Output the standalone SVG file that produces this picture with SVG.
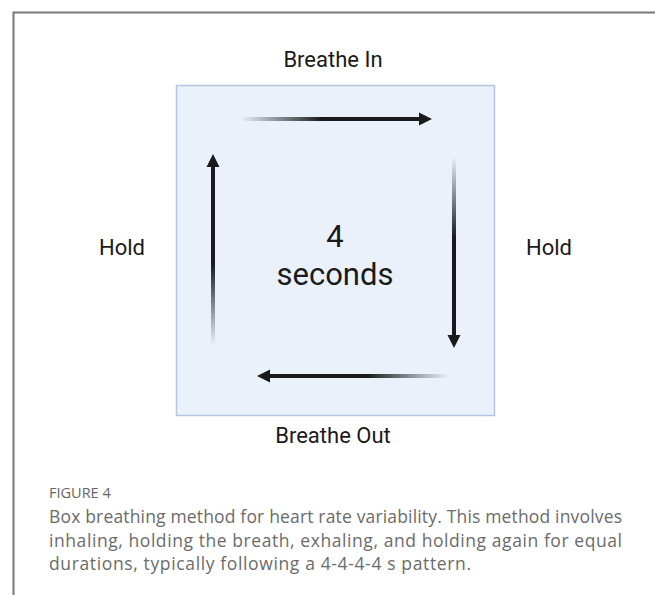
<svg xmlns="http://www.w3.org/2000/svg" width="655" height="595" viewBox="0 0 655 595">
<style>
.lbl{font-family:Roboto,"Liberation Sans",sans-serif;font-size:22px;fill:#1a1a1a;text-anchor:middle}
.big{font-family:Roboto,"Liberation Sans",sans-serif;font-size:31px;fill:#1a1a1a;text-anchor:middle}
.cap{font-family:"Open Sans","Liberation Sans",sans-serif;font-size:17.5px;fill:#6b6b6b}
.fig{font-family:"Open Sans","Liberation Sans",sans-serif;font-size:14.5px;fill:#666}
</style>
<defs>
<linearGradient id="fade" x1="0" y1="0" x2="1" y2="0">
<stop offset="0" stop-color="#1a1a1a" stop-opacity="0"/>
<stop offset="0.45" stop-color="#1a1a1a" stop-opacity="1"/>
<stop offset="1" stop-color="#1a1a1a" stop-opacity="1"/>
</linearGradient>
<g id="arrow">
<rect x="0" y="-2" width="180" height="4" fill="url(#fade)"/>
<polygon points="178,-6.5 191,0 178,6.5" fill="#1a1a1a"/>
</g>
</defs>
<rect width="655" height="595" fill="#fff"/>
<path d="M13.5 595 V12.5 H655" fill="none" stroke="#777" stroke-width="2"/>
<g id="box">
<rect x="176.5" y="85.5" width="318" height="330" fill="#eaf1fb" stroke="#b3c6e3" stroke-width="1.5"/>
</g>
<g id="connectors">
<use href="#arrow" transform="translate(241,119)"/>
<use href="#arrow" transform="translate(454,157) rotate(90)"/>
<use href="#arrow" transform="translate(448,376) rotate(180)"/>
<use href="#arrow" transform="translate(213,345) rotate(-90)"/>
</g>
<g id="breathe-in"><text class="lbl" x="333" y="67">Breathe In</text></g>
<g id="hold-right"><text class="lbl" x="549" y="255">Hold</text></g>
<g id="breathe-out"><text class="lbl" x="333" y="443">Breathe Out</text></g>
<g id="hold-left"><text class="lbl" x="122" y="255">Hold</text></g>
<g id="center"><text class="big" x="335" y="247">4</text><text class="big" x="335" y="285">seconds</text></g>
<g id="caption">
<text class="fig" x="49" y="498">FIGURE 4</text>
<text class="cap" x="49" y="523" textLength="573" lengthAdjust="spacing">Box breathing method for heart rate variability. This method involves</text>
<text class="cap" x="49" y="547" textLength="573" lengthAdjust="spacing">inhaling, holding the breath, exhaling, and holding again for equal</text>
<text class="cap" x="49" y="570" textLength="422" lengthAdjust="spacing">durations, typically following a 4-4-4-4 s pattern.</text>
</g>
</svg>
